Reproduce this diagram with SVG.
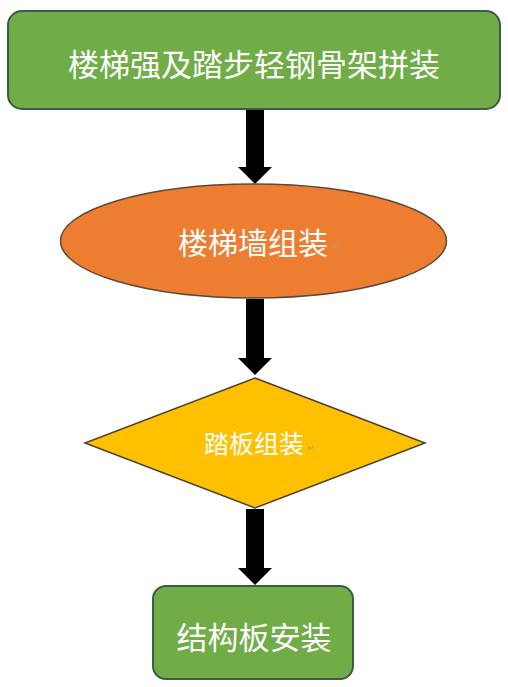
<svg xmlns="http://www.w3.org/2000/svg" width="508" height="687" viewBox="0 0 508 687">
<style>
.lbl{font-family:"Noto Sans CJK SC","Noto Sans",sans-serif;fill:#ffffff;text-anchor:middle;dominant-baseline:central}
.mark{font-family:"Liberation Sans",sans-serif;fill:#b0a080;font-size:9px}
.green{fill:#70ad47;stroke:#3f5a4a;stroke-width:2}
</style>
<defs>
<path id="arr" d="M-9,0 H9 V59 H17 L0,76 L-17,59 H-9 Z" fill="#000"/>
</defs>
<rect width="508" height="687" fill="#fff"/>
<g id="connectors">
<use href="#arr" x="255" y="108"/>
<use href="#arr" x="255" y="299"/>
<use href="#arr" x="255" y="509"/>
</g>
<g id="n1">
<rect class="green" x="8" y="11" width="492" height="98" rx="14"/>
<text class="lbl" x="254" y="62" font-size="31">楼梯强及踏步轻钢骨架拼装</text>
</g>
<g id="n2">
<ellipse cx="253.5" cy="241" rx="193" ry="57" fill="#ed7d31" stroke="#5a4a3a" stroke-width="1.5"/>
<text class="lbl" x="253" y="241" font-size="30">楼梯墙组装</text>
<text class="mark" x="333" y="249">↵</text>
</g>
<g id="n3">
<polygon points="255,378 425,443 255,508 85,443" fill="#ffc000" stroke="#4a4030" stroke-width="1.5"/>
<text class="lbl" x="254" y="442" font-size="25">踏板组装</text>
<text class="mark" x="307" y="451">↵</text>
</g>
<g id="n4">
<rect class="green" x="153" y="586" width="200" height="93" rx="13"/>
<text class="lbl" x="254" y="635" font-size="31">结构板安装</text>
</g>
</svg>
